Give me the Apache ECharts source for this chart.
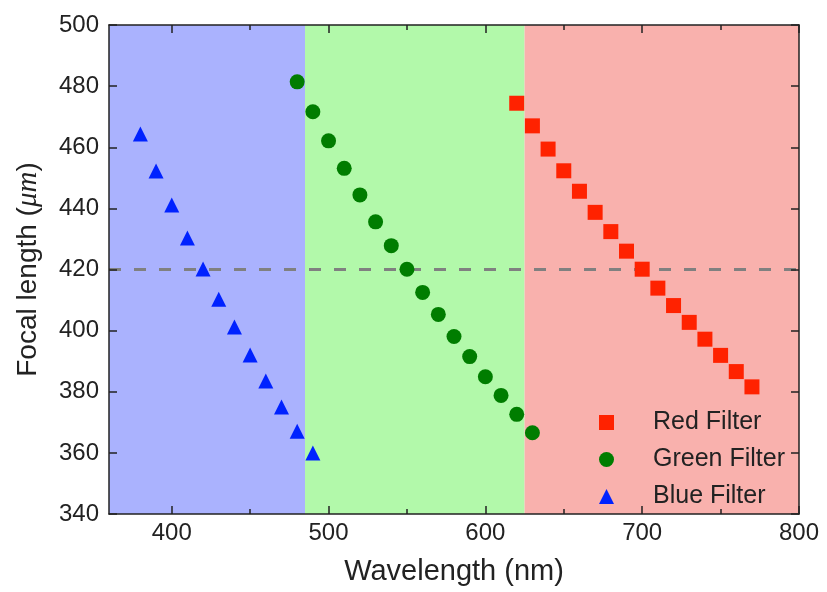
<!DOCTYPE html>
<html>
<head>
<meta charset="utf-8">
<script src="https://cdn.jsdelivr.net/npm/echarts@6/dist/echarts.min.js"></script>
<style>html,body{margin:0;padding:0;background:#fff;}#c{width:827px;height:592px;}</style>
</head>
<body>
<div id="c"></div>
<script>
const blueX = [380,390,400,410,420,430,440,450,460,470,480,490];
const blueY = [464.3,452.2,441.1,430.3,420.2,410.3,401.2,392.0,383.5,375.0,367.1,360.0];
const greenX = [480,490,500,510,520,530,540,550,560,570,580,590,600,610,620,630];
const greenY = [481.4,471.6,462.1,453.1,444.4,435.6,427.8,420.1,412.5,405.3,398.1,391.5,384.9,378.8,372.6,366.6];
const redX = [620,630,640,650,660,670,680,690,700,710,720,730,740,750,760,770];
const redY = [474.4,467.0,459.4,452.3,445.6,438.7,432.4,426.0,420.1,413.9,408.2,402.7,397.2,391.9,386.6,381.6];
const bandEdges = [360,485,625,800];
const bandColors = ['#aab2fe','#b2f9aa','#f9b1ad'];
const refLine = 420;
const xMin = 360, xMax = 800;
const xMajorTicks = [400,500,600,700,800];
const xMinorTicks = [400,450,500,550,600,650,700,750,800];
const yTicks = {min:340,max:500,interval:20};

function pairs(xs, ys){ return xs.map((x,i)=>[x,ys[i]]); }

const chart = echarts.init(document.getElementById('c'));
const axisLineStyle = {color:'#222', width:1.5};
const font = 'Liberation Sans, Arial, sans-serif';

const bands = [];
for (let i=0;i<bandColors.length;i++){
  bands.push([{xAxis:bandEdges[i], yAxis:yTicks.min, itemStyle:{color:bandColors[i], opacity:1}},{xAxis:bandEdges[i+1], yAxis:yTicks.max}]);
}

function xAxisDef(pos, major, withLabels){
  return {
    type:'value', position:pos, min:xMin, max:xMax, z:10,
    axisLine:{show:major, onZero:false, lineStyle:axisLineStyle},
    axisTick:{show:true, inside:true, length: major?8:5, lineStyle:axisLineStyle,
      customValues: major? xMajorTicks : xMinorTicks},
    axisLabel:{show:withLabels, fontFamily:font, fontSize:24, color:'#222', margin:7,
      customValues: xMajorTicks},
    splitLine:{show:false}
  };
}

const xMain = xAxisDef('bottom', true, true);
xMain.name = 'Wavelength (nm)';
xMain.nameLocation = 'middle';
xMain.nameGap = 43;
xMain.nameTextStyle = {fontFamily:font, fontSize:29, color:'#222'};

chart.setOption({
  animation:false,
  backgroundColor:'#fff',
  grid:{left:109,right:28,top:25,bottom:78},
  legend:{
    orient:'vertical', left:594, top:405, itemGap:12,
    itemWidth:15, itemHeight:15,
    textStyle:{fontFamily:font, fontSize:25, lineHeight:25, color:'#222', padding:[0,0,0,34]},
    data:['Red Filter','Green Filter','Blue Filter']
  },
  xAxis:[
    xMain,
    xAxisDef('top', true, false),
    xAxisDef('bottom', false, false),
    xAxisDef('top', false, false)
  ],
  yAxis:[{
    type:'value', min:yTicks.min, max:yTicks.max, interval:yTicks.interval, z:10,
    name:'{a|Focal length (}{b|μm}{a|)}', nameLocation:'middle', nameGap:66,
    nameTextStyle:{rich:{
      a:{fontFamily:font, fontSize:28, color:'#222'},
      b:{fontFamily:'Liberation Serif, DejaVu Serif, serif', fontStyle:'italic', fontSize:29, color:'#222'}
    }},
    axisLine:{show:true, onZero:false, lineStyle:axisLineStyle},
    axisTick:{show:true, inside:true, length:8, lineStyle:axisLineStyle},
    axisLabel:{fontFamily:font, fontSize:24, color:'#222', margin:10},
    splitLine:{show:false}
  },{
    type:'value', position:'right', min:yTicks.min, max:yTicks.max, interval:yTicks.interval, z:10,
    axisLine:{show:true, onZero:false, lineStyle:axisLineStyle},
    axisTick:{show:true, inside:true, length:8, lineStyle:axisLineStyle},
    axisLabel:{show:false}, splitLine:{show:false}
  }],
  series:[
    {
      name:'bands', type:'scatter', data:[], silent:true,
      markArea:{silent:true, data:bands},
      markLine:{silent:true, symbol:'none', label:{show:false},
        lineStyle:{color:'#808080', width:3, type:[12,13]},
        data:[{yAxis:refLine}]},
      z:1
    },
    {name:'Red Filter', type:'scatter', symbol:'rect', symbolSize:15,
      itemStyle:{color:'#ff2200', opacity:1}, data:pairs(redX, redY), z:5},
    {name:'Green Filter', type:'scatter', symbol:'circle', symbolSize:15,
      itemStyle:{color:'#007d00', opacity:1}, data:pairs(greenX, greenY), z:5},
    {name:'Blue Filter', type:'scatter', symbol:'triangle', symbolSize:15,
      itemStyle:{color:'#0022ff', opacity:1}, data:pairs(blueX, blueY), z:5}
  ]
});
</script>
</body>
</html>
